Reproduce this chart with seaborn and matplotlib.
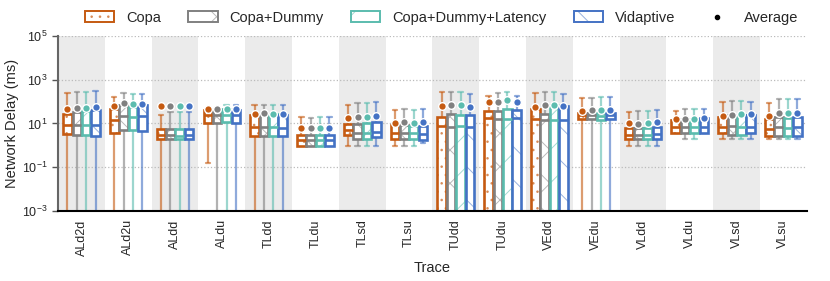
import numpy as np
import pandas as pd
import matplotlib
matplotlib.use("Agg")
import matplotlib.pyplot as plt
import seaborn as sns
from matplotlib.patches import Patch
from matplotlib.lines import Line2D
from matplotlib.ticker import FixedLocator, NullLocator, LogFormatterSciNotation
from matplotlib.colors import to_rgba

sns.set_theme(style="ticks")
plt.rcParams['font.family'] = ['Liberation Sans', 'DejaVu Sans']
plt.rcParams['hatch.linewidth'] = 0.7

traces = ["ALd2d", "ALd2u", "ALdd", "ALdu", "TLdd", "TLdu", "TLsd", "TLsu",
          "TUdd", "TUdu", "VEdd", "VEdu", "VLdd", "VLdu", "VLsd", "VLsu"]
names = ["Copa", "Copa+Dummy", "Copa+Dummy+Latency", "Vidaptive"]
colors = ["#C55A11", "#808080", "#5BBCAE", "#4472C4"]
hatches = ["..", "x", "/", "\\"]

B = 1e-4  # below the visible axis

copa_lo = [B, B, B, 0.15, B, 0.9, 0.93, 0.93, B, B, B, B, 0.93, 3.7, 2.0, 2.0]
copa_q1 = [3.3, 3.8, 1.86, 10.8, 2.65, 0.93, 2.85, 1.86, B, B, B, 15.5, 1.86, 3.8, 3.8, 2.65]
copa_med = [8.2, 14.4, 3.0, 24, 7, 1.7, 5, 3.8, 7.8, 17, 15.5, 23.6, 3.0, 7, 7, 5.5]
copa_q3 = [26, 47, 5.7, 41, 23.6, 2.85, 9.2, 8.7, 19, 38, 47, 31, 6.2, 14.4, 19, 15.5]
copa_hi = [240, 166, 24, 44, 72, 19, 72, 41, 265, 180, 240, 150, 35, 38, 93, 83]
copa_mean = [47, 60, 65, 45, 27, 6.3, 18, 10.8, 63, 100, 58, 38, 10, 15.5, 22, 22]

dummy_lo = [B, B, B, B, B, 0.9, 0.93, 0.93, B, B, B, B, 0.93, 2.0, 2.0, 2.0]
dummy_q1 = [2.85, 5, 1.86, 10.8, 2.65, 0.93, 1.86, 1.86, B, B, B, 15.5, 1.86, 3.5, 2.85, 2.65]
dummy_med = [8.2, 22, 3.0, 24, 7, 1.7, 3.8, 3.8, 7, 16, 15, 23.6, 3.0, 7, 7.5, 7]
dummy_q3 = [32, 72, 5.7, 41, 27, 2.85, 9.8, 8.7, 27, 38, 27, 31, 6.2, 15.5, 24, 19]
dummy_hi = [265, 240, 32, 52, 72, 17, 89, 47, 265, 240, 265, 140, 37, 45, 110, 130]
dummy_mean = [52, 89, 65, 45, 29, 6.3, 20, 11.5, 68, 100, 72, 40, 9.5, 15.5, 25, 29]

lat_lo = [B, B, B, B, B, 0.9, 0.93, 0.93, B, B, B, B, 0.93, 2.0, 2.0, 2.0]
lat_q1 = [2.85, 5, 1.86, 11.5, 2.65, 0.93, 1.86, 1.86, B, B, B, 14.4, 1.86, 3.5, 2.85, 2.65]
lat_med = [8.5, 20, 2.8, 25, 7, 1.7, 3.6, 3.6, 7.8, 16, 15, 23, 3.0, 7, 7, 6.5]
lat_q3 = [37, 58, 5.4, 47, 27, 2.85, 10.8, 8.0, 24, 45, 70, 31, 6.2, 15.5, 24, 17]
lat_hi = [265, 225, 32, 70, 72, 20, 83, 41, 265, 265, 265, 166, 37, 45, 110, 125]
lat_mean = [52, 74, 65, 47, 27, 6.3, 20, 10.5, 68, 118, 68, 40, 10, 15.5, 27, 29]

vid_lo = [B, B, B, B, B, 0.9, 0.93, 1.3, B, B, B, B, 0.93, 3.7, 2.0, 2.0]
vid_q1 = [2.65, 4.4, 1.86, 10.8, 2.65, 0.93, 2.4, 1.8, B, B, B, 15.5, 1.86, 3.8, 3.8, 2.65]
vid_med = [8.7, 22, 3.0, 25, 6.5, 1.7, 4.1, 3.2, 7, 17, 15, 23.6, 3.2, 7, 7, 7]
vid_q3 = [41, 68, 5.7, 41, 23.6, 2.85, 11.5, 8.0, 24, 40, 63, 31, 6.6, 17, 24, 19]
vid_hi = [302, 215, 32, 70, 72, 20, 100, 44, 225, 190, 225, 166, 40, 47, 100, 125]
vid_mean = [58, 78, 65, 47, 27, 6.3, 22, 11.5, 58, 100, 63, 40, 11.5, 17, 27, 29]

stats = {
    "Copa": (copa_lo, copa_q1, copa_med, copa_q3, copa_hi, copa_mean),
    "Copa+Dummy": (dummy_lo, dummy_q1, dummy_med, dummy_q3, dummy_hi, dummy_mean),
    "Copa+Dummy+Latency": (lat_lo, lat_q1, lat_med, lat_q3, lat_hi, lat_mean),
    "Vidaptive": (vid_lo, vid_q1, vid_med, vid_q3, vid_hi, vid_mean),
}

rows, mrows = [], []
for s in names:
    lo, q1, med, q3, hi, mean = stats[s]
    for i, t in enumerate(traces):
        for v in (lo[i], q1[i], med[i], q3[i], hi[i]):
            rows.append({"trace": t, "series": s, "delay": v})
        mrows.append({"trace": t, "series": s, "mean": mean[i]})
df = pd.DataFrame(rows)
mdf = pd.DataFrame(mrows)

fig, ax = plt.subplots(figsize=(8.3, 2.81), dpi=100)
fig.subplots_adjust(left=0.070, right=0.972, top=0.872, bottom=0.249)

sns.boxplot(data=df, x="trace", y="delay", hue="series", order=traces,
            hue_order=names, palette=colors, fill=True, whis=np.inf,
            width=0.8, gap=0.08, linewidth=1.9, log_scale=True, legend=False,
            showfliers=False, saturation=1, ax=ax)


def set_light_hatch(patch, color):
    light = to_rgba(color, 0.55)
    if hasattr(patch, "set_hatchcolor"):
        patch.set_hatchcolor(light)
    else:
        patch._hatch_color = light


rgb_list = [np.array(to_rgba(c)[:3]) for c in colors]
box_info = []  # (xcenter, ymin, ymax, k)
for p in list(ax.patches):
    fc = np.array(p.get_facecolor()[:3])
    k = int(np.argmin([np.sum((fc - c) ** 2) for c in rgb_list]))
    verts = p.get_path().vertices
    box_info.append((verts[:, 0].mean(), verts[:, 1].min(), verts[:, 1].max(), k))
    p.set_facecolor("white")
    p.set_hatch(hatches[k])
    p.set_edgecolor(colors[k])
    set_light_hatch(p, colors[k])
    p.set_zorder(2)

centers = np.array([b[0] for b in box_info])
for ln in list(ax.lines):
    xd = np.asarray(ln.get_xdata(), dtype=float)
    yd = np.asarray(ln.get_ydata(), dtype=float)
    if xd.size == 0:
        continue
    j = int(np.argmin(np.abs(centers - xd.mean())))
    _, ymin, ymax, k = box_info[j]
    ln.set_color(colors[k])
    horizontal = np.allclose(yd, yd[0])
    is_median = horizontal and (ymin <= yd[0] <= ymax)
    if not is_median:
        ln.set_alpha(0.6)
        ln.set_linewidth(1.6)
    ln.set_zorder(2.5 if is_median else 1.8)

sns.stripplot(data=mdf, x="trace", y="mean", hue="series", order=traces,
              hue_order=names, palette=colors, dodge=True, jitter=False,
              size=5.5, edgecolor="white", linewidth=1.0, legend=False,
              ax=ax, zorder=5)

for i in range(0, len(traces), 2):
    ax.axvspan(i - 0.5, i + 0.5, color="#ebebeb", zorder=0, lw=0)

ax.set_xlim(-0.5, len(traces) - 0.5)
ax.set_ylim(1e-3, 1e5)
ax.set_yscale("log")
ax.yaxis.set_major_locator(FixedLocator([1e-3, 1e-1, 1e1, 1e3, 1e5]))
ax.yaxis.set_major_formatter(LogFormatterSciNotation())
ax.yaxis.set_minor_locator(NullLocator())
ax.set_axisbelow(True)
ax.yaxis.grid(True, linestyle=":", color="#bbbbbb", linewidth=0.9)
ax.xaxis.grid(False)

ax.set_xlabel("Trace", fontsize=10.5)
ax.set_ylabel("Network Delay (ms)", fontsize=10.5, labelpad=2)
ax.tick_params(axis="x", length=0, labelsize=9, rotation=90, pad=6)
ax.tick_params(axis="y", length=4, width=1.0, color="#555555", labelsize=9)

for side in ("top", "right"):
    ax.spines[side].set_visible(False)
ax.spines["left"].set_color("#666666")
ax.spines["left"].set_linewidth(1.5)
ax.spines["bottom"].set_color("black")
ax.spines["bottom"].set_linewidth(1.5)

handles = []
for c, h in zip(colors, hatches):
    hp = Patch(facecolor="white", edgecolor=c, hatch=h, linewidth=1.4)
    set_light_hatch(hp, c)
    handles.append(hp)
handles.append(Line2D([], [], marker="o", color="black", linestyle="",
                      markersize=3))
fig.legend(handles, names + ["Average"], loc="center", ncol=5,
           bbox_to_anchor=(0.532, 0.936), frameon=False, fontsize=10.5,
           handlelength=2.0, handleheight=0.8, columnspacing=1.9,
           handletextpad=0.8)

fig.savefig("out.png", dpi=100)
